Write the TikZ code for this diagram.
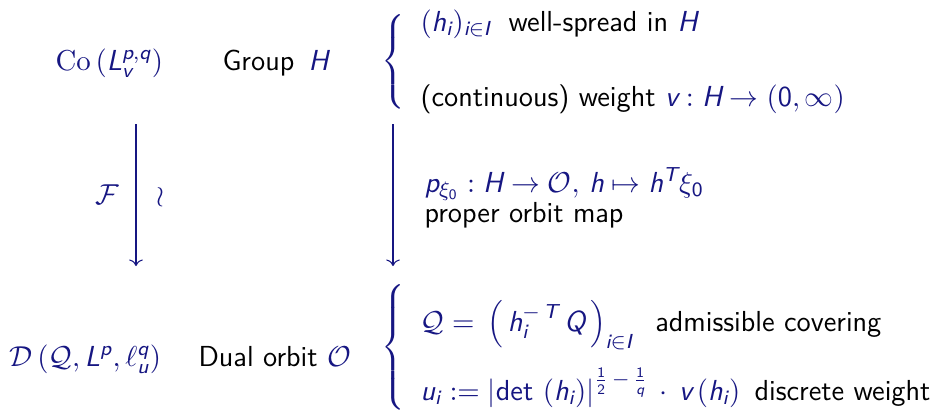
\documentclass[tikz,border=0pt]{standalone}
\usetikzlibrary{arrows.meta}
\renewcommand\familydefault{\sfdefault}
\DeclareSymbolFont{sfit}{TU}{lmss}{m}{sl}
\DeclareSymbolFont{sfup}{TU}{lmss}{m}{n}
\DeclareMathAlphabet{\msf}{TU}{lmss}{m}{n}
\DeclareMathSymbol{L}{\mathalpha}{sfit}{`L}
\DeclareMathSymbol{v}{\mathalpha}{sfit}{`v}
\DeclareMathSymbol{p}{\mathalpha}{sfit}{`p}
\DeclareMathSymbol{q}{\mathalpha}{sfit}{`q}
\DeclareMathSymbol{H}{\mathalpha}{sfit}{`H}
\DeclareMathSymbol{h}{\mathalpha}{sfit}{`h}
\DeclareMathSymbol{i}{\mathalpha}{sfit}{`i}
\DeclareMathSymbol{I}{\mathalpha}{sfit}{`I}
\DeclareMathSymbol{T}{\mathalpha}{sfit}{`T}
\DeclareMathSymbol{Q}{\mathalpha}{sfit}{`Q}
\DeclareMathSymbol{u}{\mathalpha}{sfit}{`u}
\DeclareMathSymbol{0}{\mathalpha}{sfup}{`0}
\DeclareMathSymbol{1}{\mathalpha}{sfup}{`1}
\DeclareMathSymbol{2}{\mathalpha}{sfup}{`2}
\definecolor{mblue}{RGB}{22,22,130}
\newcommand\mth[1]{{\color{mblue}$#1$}}
\tikzset{
  txt/.style={inner sep=0pt, anchor=base west, font=\fontsize{11}{13.6}\selectfont},
  lbl/.style={inner sep=0pt, font=\fontsize{11}{13.6}\selectfont},
  bracenode/.style={inner sep=0pt, text=mblue, font=\fontsize{11}{13.6}\selectfont},
  arr/.style={draw=mblue, line width=0.4pt, -{Computer Modern Rightarrow}}
}
\begin{document}
\begin{tikzpicture}[x=0.38pt, y=-0.38pt]
\useasboundingbox (0,0) rectangle (937,413);
% left column
\node[txt] (co) at (55,70) {\mth{\mathrm{Co}\left(L_v^{p,q}\right)}};
\node[txt] (grp) at (222,70) {Group \mth{\,H}};
\node[txt] (dd) at (9,366) {\mth{\mathcal{D}\left(\mathcal{Q},L^p,\ell_u^q\right)}};
\node[txt] (dual) at (198,366) {Dual orbit \mth{\mathcal{O}}};
% arrows
\coordinate (a1s) at (136,124);
\coordinate (a1e) at (136,266);
\coordinate (a2s) at (393,124);
\coordinate (a2e) at (393,266);
\draw[arr] (a1s) -- (a1e);
\draw[arr] (a2s) -- (a2e);
\node[lbl] (lf) at (107,195) {\mth{\mathcal{F}}};
\node[lbl] (lw) at (160,197) {\mth{\wr}};
% braces
\node[bracenode] (b1) at (395,62) {$\left\{\rule[-16pt]{0pt}{37pt}\right.$};
\node[bracenode] (b2) at (395,348) {$\left\{\rule[-22pt]{0pt}{49pt}\right.$};
% right texts
\node[txt] (r1) at (420,31) {\mth{(h_i)_{i\in I}}\; well-spread in \mth{H}};
\node[txt] (r2) at (420,106) {(continuous) weight \mth{v:H\to(0,\infty)}};
\node[txt] (r3) at (424,192) {\mth{p_{\xi_0}:H\to\mathcal{O},\,h\mapsto h^T\xi_0}};
\node[txt] (r3b) at (424,222) {proper orbit map};
\node[txt] (r4) at (420,331) {\mth{\mathcal{Q}=\,\Bigl(\,h_i^{-\,T}\,Q\,\Bigr)_{i\in I}}\;\, admissible covering};
\node[txt] (r5) at (420,400) {\mth{u_i:=\left|\msf{det}\,\left(h_i\right)\right|^{\frac12\,-\,\frac1q}\,\cdot\,v\left(h_i\right)}\, discrete weight};
\end{tikzpicture}
\end{document}
